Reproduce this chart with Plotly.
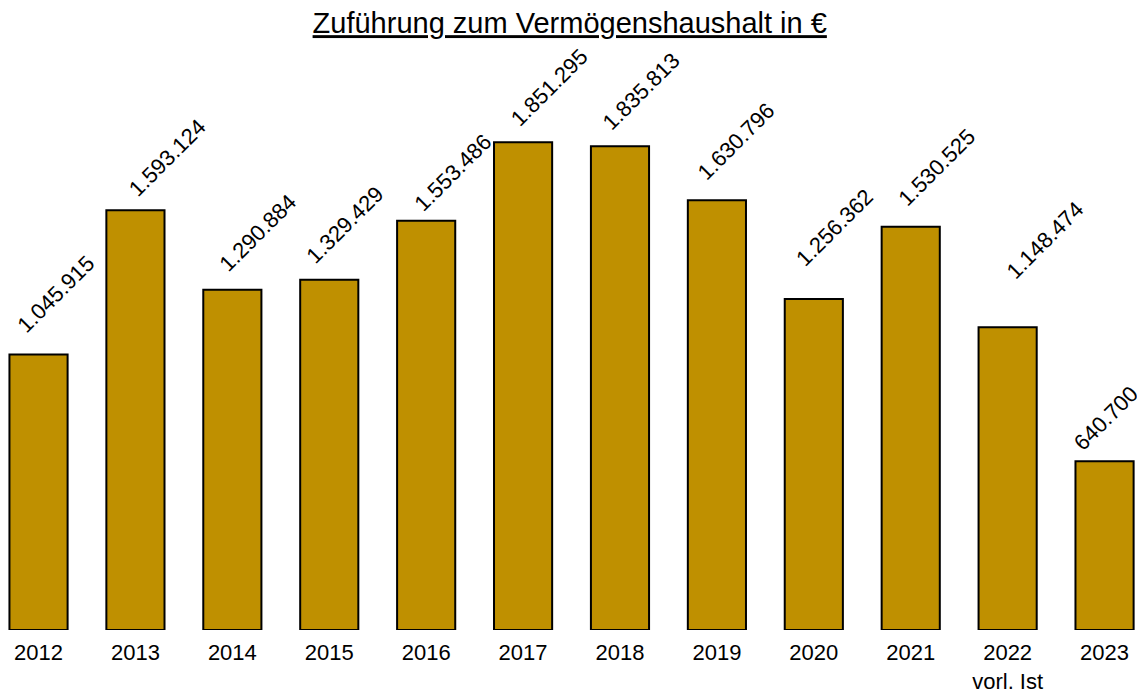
import plotly.graph_objects as go

years = ["2012", "2013", "2014", "2015", "2016", "2017", "2018", "2019", "2020", "2021", "2022", "2023"]
tick_labels = ["2012", "2013", "2014", "2015", "2016", "2017", "2018", "2019", "2020", "2021", "2022<br>vorl. Ist", "2023"]
values = [1045915, 1593124, 1290884, 1329429, 1553486, 1851295, 1835813, 1630796, 1256362, 1530525, 1148474, 640700]
value_labels = ["1.045.915", "1.593.124", "1.290.884", "1.329.429", "1.553.486", "1.851.295",
                "1.835.813", "1.630.796", "1.256.362", "1.530.525", "1.148.474", "640.700"]

# label placement offsets (pixels) relative to bar top centre
label_dx = [17, 32, 26, 16, 27, 26, 21, 19, 21, 26, 37, 1]
label_dy = [60, 53, 57, 55, 48, 55, 55, 59, 71, 59, 87, 43]

FONT = "Liberation Sans, Arial, sans-serif"

pos = list(range(len(years)))

fig = go.Figure()
fig.add_trace(go.Bar(
    x=pos, y=values,
    marker=dict(color="#BF9000", line=dict(color="black", width=2)),
    hoverinfo="skip",
))

for p, v, t, dx, dy in zip(pos, values, value_labels, label_dx, label_dy):
    fig.add_annotation(
        x=p, y=v, xref="x", yref="y", text=t, showarrow=False, textangle=-45,
        xanchor="center", yanchor="middle", xshift=dx, yshift=dy,
        font=dict(family=FONT, size=22, color="black"),
    )

fig.update_layout(
    width=1145, height=692,
    margin=dict(l=0, r=0, t=0, b=70),
    paper_bgcolor="white", plot_bgcolor="white",
    bargap=0.4,
    showlegend=False,
    title=dict(
        text="<u>Zuführung zum Vermögenshaushalt in €</u>",
        x=0.4906, xanchor="center", y=1 - 15 / 692, yanchor="middle", yref="container",
        font=dict(family=FONT, size=29, color="black"),
    ),
    xaxis=dict(
        range=[-0.315, 11.5],
        tickmode="array", tickvals=pos, ticktext=tick_labels,
        showgrid=False, zeroline=False, showline=False, ticks="",
        ticklabelstandoff=7,
        tickfont=dict(family=FONT, size=22, color="black"),
    ),
    yaxis=dict(
        range=[0, 2360500], visible=False, showgrid=False, zeroline=False,
    ),
)

fig.write_html("out.html")
